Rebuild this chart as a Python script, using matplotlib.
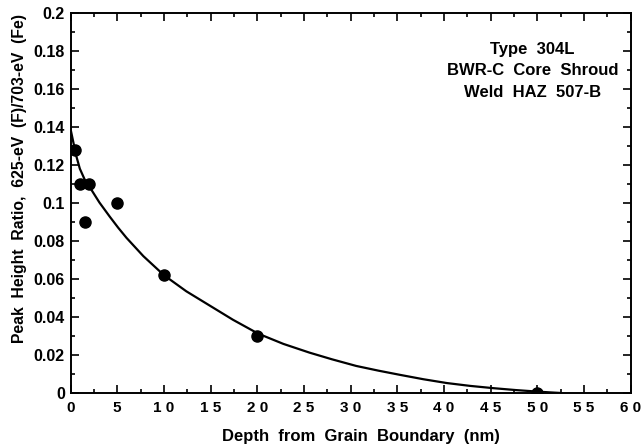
import matplotlib
matplotlib.use("Agg")
from matplotlib import pyplot as plt
from matplotlib.ticker import MultipleLocator, FormatStrFormatter

# measured points
depth = [0.5, 1.0, 1.5, 2.0, 5.0, 10.0, 20.0, 50.0]
ratio = [0.128, 0.110, 0.090, 0.110, 0.100, 0.062, 0.030, 0.0]

# fitted curve
fit_x = [0.0, 0.3, 0.6, 1.0, 1.5, 2.2, 3.1, 4.2, 5.1, 6.0, 7.8, 10.0, 12.4, 14.9,
         17.4, 20.1, 22.8, 25.6, 28.0, 30.6, 33.0, 35.3, 37.8, 40.3, 42.8, 45.3,
         47.7, 50.0, 51.3, 52.4]
fit_y = [0.139, 0.132, 0.125, 0.118, 0.1125, 0.1072, 0.1002, 0.0928, 0.0870, 0.0816,
         0.0720, 0.062, 0.0535, 0.0460, 0.0385, 0.0312, 0.0258, 0.0212, 0.0177, 0.0142,
         0.0117, 0.0095, 0.0072, 0.0052, 0.0037, 0.0025, 0.0015, 0.0007, 0.0003, 0.0]

xticks = list(range(0, 61, 5))
yticks = [0, 0.02, 0.04, 0.06, 0.08, 0.1, 0.12, 0.14, 0.16, 0.18, 0.2]

plt.rcParams['font.family'] = ['Liberation Sans', 'DejaVu Sans']
plt.rcParams['font.weight'] = 'bold'

fig = plt.figure(figsize=(6.41, 4.46), dpi=100)
ax = fig.add_axes([0.110, 0.119, 0.874, 0.852])

ax.plot(fit_x, fit_y, color='black', lw=1.6, solid_joinstyle='round')
ax.plot(depth, ratio, 'o', color='black', markersize=8)

ax.set_xlim(0, 60)
ax.set_ylim(0, 0.2)
ax.set_xticks(xticks)
ax.set_yticks(yticks)
ax.set_xticklabels([' '.join(str(t)) for t in xticks])
ax.yaxis.set_major_formatter(FormatStrFormatter('%g'))
ax.xaxis.set_minor_locator(MultipleLocator(2.5))
ax.yaxis.set_minor_locator(MultipleLocator(0.01))
ax.tick_params(which='both', direction='in', top=True, right=True, width=1.2)
ax.tick_params(axis='x', labelsize=11, pad=6)
ax.tick_params(axis='y', labelsize=11.5, pad=4)
ax.tick_params(which='major', length=6)
ax.tick_params(which='minor', length=3)
for s in ax.spines.values():
    s.set_linewidth(1.4)

ax.set_xlabel('Depth  from  Grain  Boundary  (nm)', fontsize=12, fontweight='bold')
ax.xaxis.set_label_coords(0.518, -0.095)
ax.set_ylabel('Peak  Height  Ratio,  625-eV  (F)/703-eV  (Fe)', fontsize=11.3, fontweight='bold')
ax.yaxis.set_label_coords(-0.078, 0.563)

ax.text(0.825, 0.848, 'Type  304L\nBWR-C  Core  Shroud\nWeld  HAZ  507-B', transform=ax.transAxes,
        ha='center', va='center', fontsize=12, fontweight='bold', linespacing=1.55)

fig.savefig('out.png', dpi=100)
